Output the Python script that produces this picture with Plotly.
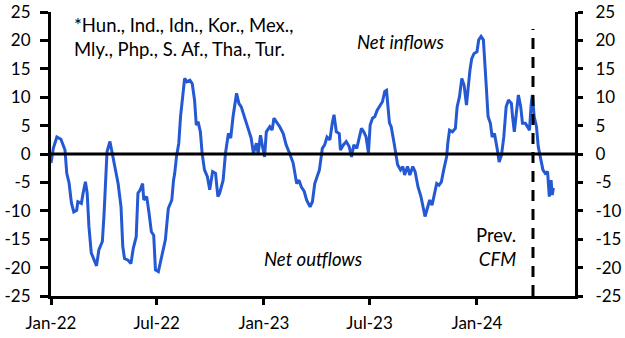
import plotly.graph_objects as go

dates = [
 "2022-01-01","2022-01-05","2022-01-11","2022-01-18","2022-01-25","2022-01-28","2022-02-01","2022-02-05","2022-02-09","2022-02-14",
 "2022-02-16","2022-02-22","2022-02-25","2022-03-01","2022-03-04","2022-03-07","2022-03-11","2022-03-16","2022-03-20","2022-03-24",
 "2022-03-30","2022-04-02","2022-04-05","2022-04-07","2022-04-12","2022-04-17","2022-04-21","2022-04-26","2022-05-01","2022-05-04",
 "2022-05-07","2022-05-13","2022-05-18","2022-05-22","2022-05-27","2022-05-30","2022-06-03","2022-06-07","2022-06-09","2022-06-14",
 "2022-06-18","2022-06-22","2022-06-26","2022-06-29","2022-07-04","2022-07-08","2022-07-12","2022-07-16","2022-07-21","2022-07-27",
 "2022-07-30","2022-08-01","2022-08-04","2022-08-08","2022-08-11","2022-08-15","2022-08-18","2022-08-22","2022-08-27","2022-08-31",
 "2022-09-04","2022-09-07","2022-09-10","2022-09-14","2022-09-17","2022-09-21","2022-09-26","2022-09-30","2022-10-05","2022-10-10",
 "2022-10-14","2022-10-17","2022-10-23","2022-10-27","2022-11-01","2022-11-05","2022-11-09","2022-11-15","2022-11-19","2022-11-23",
 "2022-11-29","2022-12-05","2022-12-10","2022-12-14","2022-12-19","2022-12-22","2022-12-26","2022-12-29","2023-01-02","2023-01-05",
 "2023-01-11","2023-01-15","2023-01-18","2023-01-22","2023-01-28","2023-02-03","2023-02-08","2023-02-14","2023-02-20","2023-02-26",
 "2023-03-02","2023-03-06","2023-03-11","2023-03-15","2023-03-21","2023-03-25","2023-03-29","2023-04-02","2023-04-06","2023-04-11",
 "2023-04-15","2023-04-19","2023-04-24","2023-04-28","2023-05-01","2023-05-05","2023-05-10","2023-05-12","2023-05-17","2023-05-22",
 "2023-05-27","2023-05-31","2023-06-04","2023-06-09","2023-06-13","2023-06-17","2023-06-21","2023-06-25","2023-06-29","2023-07-02",
 "2023-07-06","2023-07-10","2023-07-14","2023-07-19","2023-07-23","2023-07-27","2023-07-30","2023-08-04","2023-08-07","2023-08-12",
 "2023-08-15","2023-08-18","2023-08-23","2023-08-27","2023-08-30","2023-09-04","2023-09-08","2023-09-13","2023-09-17","2023-09-22",
 "2023-09-27","2023-09-30","2023-10-04","2023-10-07","2023-10-12","2023-10-16","2023-10-21","2023-10-24","2023-10-28","2023-11-01",
 "2023-11-05","2023-11-10","2023-11-12","2023-11-15","2023-11-20","2023-11-25","2023-11-28","2023-12-02","2023-12-06","2023-12-10",
 "2023-12-14","2023-12-17","2023-12-20","2023-12-23","2023-12-27","2024-01-01","2024-01-04","2024-01-08","2024-01-12","2024-01-17",
 "2024-01-20","2024-01-24","2024-01-27","2024-01-31","2024-02-03","2024-02-05","2024-02-08","2024-02-12","2024-02-16","2024-02-20",
 "2024-02-24","2024-02-29","2024-03-02","2024-03-05","2024-03-09","2024-03-12","2024-03-16","2024-03-19","2024-03-24","2024-03-28",
 "2024-03-31","2024-04-03","2024-04-05","2024-04-08","2024-04-12","2024-04-15","2024-04-18","2024-04-23","2024-04-27","2024-05-01",
 "2024-05-04","2024-05-07","2024-05-09","2024-05-11",
]

flows = [
 -1.6, 1.0, 3.0, 2.6, 0.7, -3.4, -5.1, -8.6, -10.2, -9.9,
 -8.4, -8.7, -6.9, -4.9, -6.9, -12.8, -17.4, -18.7, -19.7, -16.9,
 -15.4, -10.4, -4.0, 0.4, 2.2, -0.5, -2.8, -5.2, -9.3, -16.3,
 -18.4, -18.7, -19.3, -16.6, -14.6, -6.9, -6.3, -5.2, -8.1, -7.5,
 -10.4, -13.7, -14.3, -20.4, -20.7, -18.7, -16.9, -15.1, -9.6, -8.1,
 -4.6, -3.4, -0.5, 1.9, 6.6, 10.7, 13.3, 12.7, 13.0, 12.4,
 9.5, 5.1, 5.7, 3.9, 0.1, -2.8, -4.0, -6.3, -3.1, -3.4,
 -7.5, -6.9, -4.6, 0.1, 3.6, 2.8, 6.6, 10.7, 8.9, 8.3,
 6.3, 4.2, 2.8, 0.1, 1.9, 0.1, 3.3, 1.6, -0.5, 3.9,
 4.8, 4.2, 6.3, 5.7, 4.8, 3.6, 1.6, 0.1, -1.6, -5.2,
 -4.6, -5.8, -6.6, -8.1, -9.3, -8.4, -5.2, -4.0, -2.8, 1.0,
 1.6, 3.0, 2.5, 5.4, 6.9, 3.9, 3.6, 0.7, 1.6, 2.2,
 1.3, -0.5, 1.6, 1.0, 3.0, 4.5, 3.9, 3.0, 0.2, 5.1,
 6.3, 6.6, 7.7, 8.6, 9.2, 11.0, 11.2, 5.5, 4.8, 1.9,
 0.1, -1.9, -2.8, -2.2, -3.7, -2.2, -3.7, -2.2, -3.1, -5.8,
 -7.5, -9.3, -11.0, -9.9, -8.1, -9.0, -6.9, -5.2, -5.5, -4.9,
 -2.8, -0.5, 1.9, 4.2, 3.9, 4.5, 8.3, 10.1, 13.3, 12.1,
 8.6, 11.8, 14.8, 16.8, 17.7, 18.0, 20.1, 20.7, 20.1, 11.8,
 6.6, 5.4, 3.0, 3.6, 1.3, 0.7, -1.4, -0.2, 3.0, 8.3,
 9.5, 8.9, 6.6, 3.9, 7.7, 10.4, 8.3, 5.4, 5.4, 4.8,
 4.2, 8.9, 10.4, 6.6, 4.8, 1.3, -0.5, -2.8, -3.4, -3.1,
 -7.5, -4.6, -7.2, -6.0,
]

y_ticks = [25, 20, 15, 10, 5, 0, -5, -10, -15, -20, -25]
y_labels = ["25", "20", "15", "10", "5", "0", "-5", "-10", "-15", "-20", "-25"]
x_ticks = ["2022-01-01", "2022-07-01", "2023-01-01", "2023-07-01", "2024-01-01"]
x_labels = ["Jan-22", "Jul-22", "Jan-23", "Jul-23", "Jan-24"]
prev_cfm_date = "2024-04-06"
x_range = ["2022-01-01", "2024-06-17"]
y_range = [-25, 25]

FONT = "Lato"
BLUE = "#2459d3"

fig = go.Figure()
fig.add_trace(go.Scatter(x=dates, y=flows, mode="lines",
                         line=dict(color=BLUE, width=3), showlegend=False))
fig.add_trace(go.Scatter(x=[dates[0]], y=[0], yaxis="y2", mode="markers",
                         marker=dict(opacity=0), showlegend=False, hoverinfo="skip"))

fig.add_shape(type="line", xref="x", yref="y", x0=x_range[0], x1=x_range[1], y0=0, y1=0,
              line=dict(color="black", width=2.8))
fig.add_shape(type="line", xref="x", yref="y", x0=prev_cfm_date, x1=prev_cfm_date, y0=-25, y1=22,
              line=dict(color="black", width=3, dash="11px,8px"))

axis_common = dict(range=y_range, tickvals=y_ticks, ticktext=y_labels, showgrid=False,
                   zeroline=False, showline=True, linecolor="black", linewidth=3,
                   ticks="outside", tickwidth=2.5, tickcolor="black", automargin=False,
                   tickfont=dict(family=FONT, size=17, color="black"))

fig.update_layout(
    width=625, height=338,
    margin=dict(l=51, r=50, t=12, b=42),
    plot_bgcolor="white", paper_bgcolor="white",
    xaxis=dict(range=x_range, type="date", tickvals=x_ticks, ticktext=x_labels,
               showgrid=False, zeroline=False, showline=True, linecolor="black", linewidth=3,
               ticks="outside", ticklen=6, tickwidth=2.5, tickcolor="black", automargin=False,
               ticklabelstandoff=4,
               tickfont=dict(family=FONT, size=17, color="black")),
    yaxis=dict(side="left", ticklen=8, ticklabelstandoff=6, **axis_common),
    yaxis2=dict(side="right", overlaying="y", ticklen=5, ticklabelstandoff=9, **axis_common),
)

fig.add_annotation(xref="paper", yref="paper", x=(72-51)/524, y=(296-12)/284, xanchor="left", yanchor="top",
                   align="left", showarrow=False,
                   text="*Hun., Ind., Idn., Kor., Mex.,<br>Mly., Php., S. Af., Tha., Tur.",
                   font=dict(family=FONT, size=18.5, color="black"))
fig.add_annotation(xref="paper", yref="paper", x=(400-51)/524, y=(296-42)/284, xanchor="center", yanchor="middle",
                   showarrow=False, text="<i>Net inflows</i>",
                   font=dict(family=FONT, size=18.5, color="black"))
fig.add_annotation(xref="paper", yref="paper", x=(313-51)/524, y=(296-259)/284, xanchor="center", yanchor="middle",
                   showarrow=False, text="<i>Net outflows</i>",
                   font=dict(family=FONT, size=18.5, color="black"))
fig.add_annotation(xref="paper", yref="paper", x=(518-51)/524, y=(296-247)/284, xanchor="right", yanchor="middle",
                   showarrow=False, align="right", text="Prev.<br><i>CFM</i>",
                   font=dict(family=FONT, size=18.5, color="black"))

fig.write_html("out.html")
